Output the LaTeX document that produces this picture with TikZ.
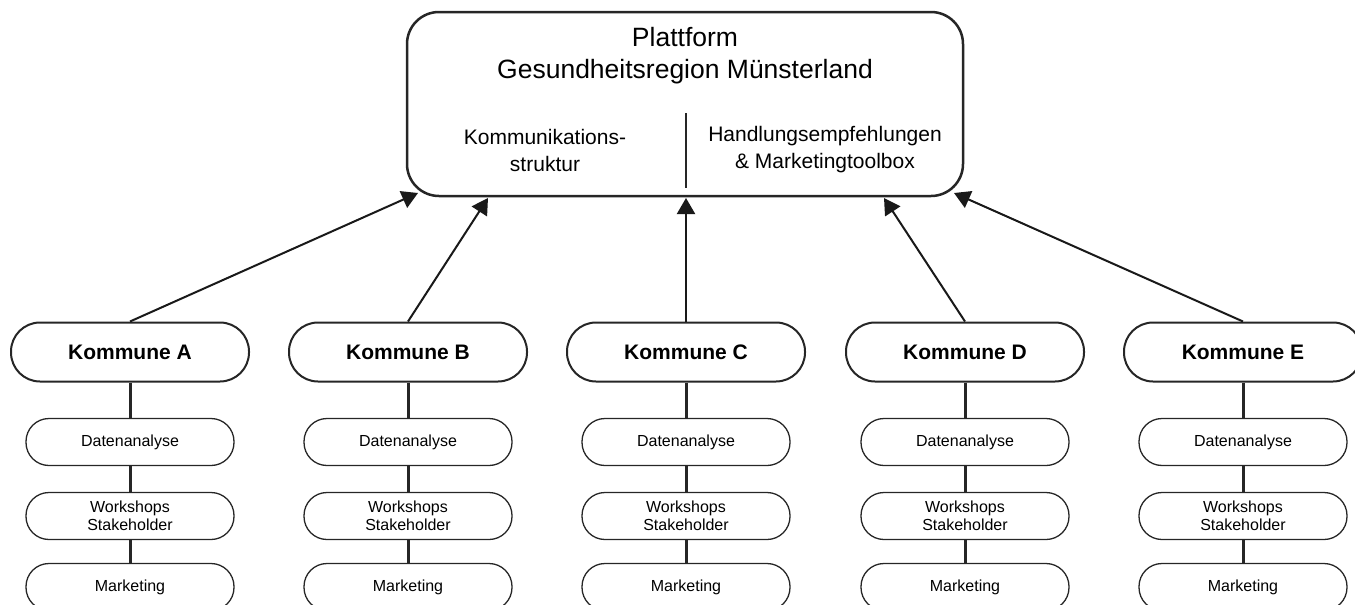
\documentclass[tikz,border=0pt]{standalone}
\usepackage{fontspec}
\setmainfont{Liberation Sans}
\usetikzlibrary{arrows.meta}

\begin{document}
\begin{tikzpicture}[x=1pt,y=-1pt,
    kommune/.style={draw=black!85, line width=2, rounded corners=29,
      minimum width=238, minimum height=59,
      font=\fontsize{21}{25}\selectfont\bfseries},
    task/.style={draw=black!85, line width=1.3, rounded corners=23,
      minimum width=208, minimum height=47, align=center,
      font=\fontsize{16}{18.4}\selectfont},
    link/.style={draw=black!85, line width=3},
    feed/.style={draw=black!90, line width=2,
      -{Triangle[length=16, width=18]}}]
  \useasboundingbox (0,0) rectangle (1355,605);

  % platform
  \node[draw=black!85, line width=2.5, rounded corners=32,
    minimum width=556, minimum height=184] (plat) at (685,104) {};
  \node[font=\fontsize{26.5}{32}\selectfont, align=center] (title) at (685,56)
    {Plattform\\Gesundheitsregion M\"unsterland};
  \node[font=\fontsize{21}{27}\selectfont, align=center] (komm) at (545,150)
    {Kommunikations-\\struktur};
  \node[font=\fontsize{21}{27}\selectfont, align=center] (hand) at (825,150)
    {Handlungsempfehlungen\\\& Marketingtoolbox};
  \draw[line width=2.5, black!85] (686,113) -- (686,188);

  % communes
  \node[kommune] (ka) at (130,352) {Kommune A};
  \node[kommune] (kb) at (408,352) {Kommune B};
  \node[kommune] (kc) at (686,352) {Kommune C};
  \node[kommune] (kd) at (965,352) {Kommune D};
  \node[kommune] (ke) at (1243,352) {Kommune E};

  \node[task] (da) at (130,442) {Datenanalyse};
  \node[task] (db) at (408,442) {Datenanalyse};
  \node[task] (dc) at (686,442) {Datenanalyse};
  \node[task] (dd) at (965,442) {Datenanalyse};
  \node[task] (de) at (1243,442) {Datenanalyse};

  \node[task] (wa) at (130,516) {Workshops\\Stakeholder};
  \node[task] (wb) at (408,516) {Workshops\\Stakeholder};
  \node[task] (wc) at (686,516) {Workshops\\Stakeholder};
  \node[task] (wd) at (965,516) {Workshops\\Stakeholder};
  \node[task] (we) at (1243,516) {Workshops\\Stakeholder};

  \node[task] (ma) at (130,587) {Marketing};
  \node[task] (mb) at (408,587) {Marketing};
  \node[task] (mc) at (686,587) {Marketing};
  \node[task] (md) at (965,587) {Marketing};
  \node[task] (me) at (1243,587) {Marketing};

  \draw[link] (ka) -- (da) (da) -- (wa) (wa) -- (ma);
  \draw[link] (kb) -- (db) (db) -- (wb) (wb) -- (mb);
  \draw[link] (kc) -- (dc) (dc) -- (wc) (wc) -- (mc);
  \draw[link] (kd) -- (dd) (dd) -- (wd) (wd) -- (md);
  \draw[link] (ke) -- (de) (de) -- (we) (we) -- (me);

  % arrows up to the platform
  \coordinate (inA) at (418,193);
  \coordinate (inB) at (488,198);
  \coordinate (inC) at (686,198);
  \coordinate (inD) at (884,198);
  \coordinate (inE) at (954,193);
  \draw[feed] (ka.north) -- (inA);
  \draw[feed] (kb.north) -- (inB);
  \draw[feed] (kc.north) -- (inC);
  \draw[feed] (kd.north) -- (inD);
  \draw[feed] (ke.north) -- (inE);
\end{tikzpicture}
\end{document}
